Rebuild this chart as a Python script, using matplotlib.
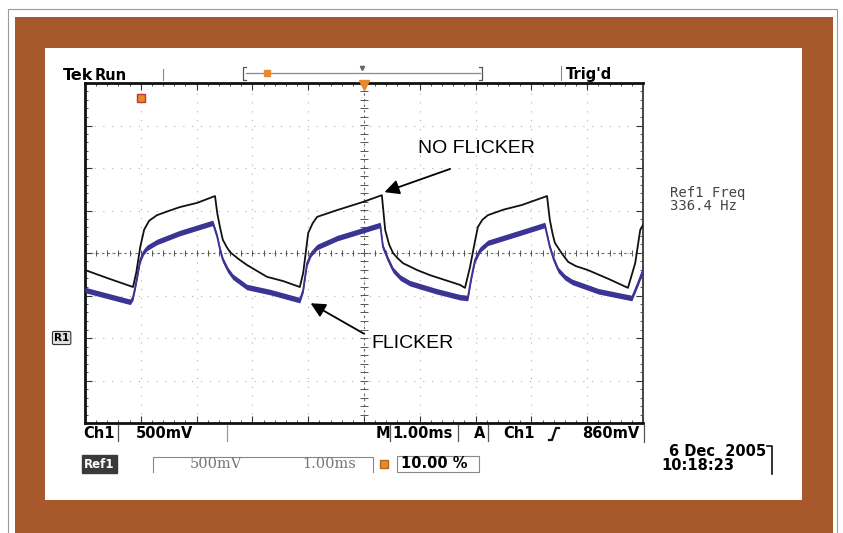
import numpy as np
import matplotlib.pyplot as plt
from matplotlib.patches import Rectangle
from matplotlib.lines import Line2D

# =============================
# Scope traces (time in ms, 1 ms/div; level in divisions, 500 mV/div)
# =============================
black_t = [0.00, 0.40, 0.86, 0.92, 0.99, 1.06, 1.15, 1.29, 1.50, 1.70, 2.01, 2.33,
           2.37, 2.42, 2.47, 2.54, 2.60, 2.75, 2.90, 3.26, 3.55, 3.85,
           3.91, 3.96, 4.00, 4.08, 4.16, 4.52, 4.98, 5.32,
           5.38, 5.45, 5.52, 5.60, 5.70, 5.95, 6.18, 6.72, 6.81,
           6.90, 6.97, 7.04, 7.12, 7.22, 7.50, 7.83, 8.28,
           8.33, 8.38, 8.42, 8.55, 8.66, 8.80, 9.01, 9.40, 9.73,
           9.86, 9.95, 10.0]
black_div = [-0.40, -0.59, -0.80, -0.45, 0.14, 0.55, 0.76, 0.89, 0.99, 1.08, 1.18, 1.34,
             0.94, 0.60, 0.31, 0.14, 0.02, -0.14, -0.28, -0.56, -0.66, -0.80,
             -0.47, 0.05, 0.47, 0.70, 0.85, 1.01, 1.20, 1.36,
             0.54, 0.20, 0.00, -0.12, -0.24, -0.40, -0.52, -0.75, -0.82,
             -0.33, 0.15, 0.61, 0.78, 0.89, 1.02, 1.13, 1.34,
             0.78, 0.45, 0.24, -0.02, -0.21, -0.31, -0.40, -0.62, -0.82,
             -0.24, 0.54, 0.66]

blue_t = [0.00, 0.81, 0.86, 0.90, 0.95, 0.99, 1.05, 1.11, 1.29, 1.70, 2.29,
          2.37, 2.42, 2.47, 2.56, 2.65, 2.90, 3.32, 3.85,
          3.91, 3.95, 3.98, 4.05, 4.16, 4.52, 5.29,
          5.34, 5.43, 5.52, 5.65, 5.82, 6.30, 6.72, 6.86,
          6.92, 6.99, 7.08, 7.22, 7.83, 8.24,
          8.33, 8.40, 8.48, 8.60, 8.73, 9.20, 9.80,
          9.91, 10.0]
blue_div = [-0.87, -1.15, -1.05, -0.80, -0.45, -0.16, 0.02, 0.12, 0.26, 0.47, 0.71,
            0.38, 0.08, -0.16, -0.40, -0.56, -0.80, -0.92, -1.11,
            -0.87, -0.50, -0.24, -0.02, 0.14, 0.35, 0.66,
            0.14, -0.15, -0.40, -0.58, -0.71, -0.90, -1.04, -1.06,
            -0.60, -0.16, 0.08, 0.24, 0.49, 0.66,
            0.14, -0.15, -0.40, -0.57, -0.68, -0.90, -1.06,
            -0.71, -0.40]

# =============================
# Readout texts
# =============================
ch1_scale = "500mV"
timebase = "1.00ms"
trig_level = "860mV"
ref_freq = ["Ref1 Freq", "336.4 Hz"]
ref_scale = ["500mV", "1.00ms"]
ref_pct = "10.00 %"
stamp = ["6 Dec  2005", "10:18:23"]

# =============================
# Colours / layout helpers
# =============================
W, H = 843, 533
brown = "#a8592c"
blue = "#3c3493"
orange = "#e8892e"

fig = plt.figure(figsize=(W / 100, H / 100), dpi=100)
fig.patch.set_facecolor("white")


def fx(x):
    return x / W


def fy(y):
    return 1 - y / H


def frect(x0, y0, x1, y1, **kw):
    kw.setdefault("zorder", 2)
    fig.add_artist(Rectangle((fx(x0), fy(y1)), (x1 - x0) / W, (y1 - y0) / H,
                             transform=fig.transFigure, **kw))


def fline(xs, ys, **kw):
    fig.add_artist(Line2D([fx(x) for x in xs], [fy(y) for y in ys],
                          transform=fig.transFigure, **kw))


def ftext(x, y, s, **kw):
    kw.setdefault("ha", "left")
    kw.setdefault("va", "center")
    fig.text(fx(x), fy(y), s, **kw)


# frame: outline, brown mat, white screen (behind the axes)
frect(8, 9, 837, 545, fc="none", ec="#9a9a9a", lw=0.8, zorder=-3)
frect(15, 17, 833, 545, fc=brown, ec="none", zorder=-2)
frect(45, 48, 802, 500, fc="white", ec="none", zorder=-1)

# =============================
# Graticule
# =============================
ax = fig.add_axes([fx(85), fy(423), 558 / W, 340 / H])
ax.set_xlim(0, 10)
ax.set_ylim(-4, 4)
ax.set_xticks(np.arange(0, 11, 1))
ax.set_yticks(np.arange(-4, 5, 1))
ax.set_xticks(np.arange(0, 10.01, 0.2), minor=True)
ax.set_yticks(np.arange(-4, 4.01, 0.2), minor=True)
ax.tick_params(which="both", direction="in", top=True, right=True,
               labelbottom=False, labelleft=False, color="#333333")
ax.tick_params(which="major", length=5, width=0.8)
ax.tick_params(which="minor", length=2.5, width=0.6)
ax.grid(True, which="major", color="#b0b0b0", lw=0.8, ls=(0, (1, 7)))
for side in ["left", "top", "bottom"]:
    ax.spines[side].set_linewidth(2.0)
    ax.spines[side].set_color("#111111")
ax.spines["right"].set_linewidth(1.4)
ax.spines["right"].set_color("#444444")

ax.axhline(0, color="#666666", lw=0.8, ls=(0, (2, 3)))
ax.axvline(5, color="#666666", lw=0.8, ls=(0, (2, 3)))
ax.vlines(np.arange(0, 10.01, 0.2), -0.08, 0.08, color="#555555", lw=0.7)
ax.hlines(np.arange(-4, 4.01, 0.2), 4.93, 5.07, color="#555555", lw=0.7)

# =============================
# Traces
# =============================
blue_arr = np.array(blue_div)
ax.fill_between(blue_t, blue_arr - 0.065, blue_arr + 0.065, color=blue, lw=0, zorder=3)
ax.plot(blue_t, blue_div, color=blue, lw=1.3, zorder=3)
ax.plot(black_t, black_div, color="#111111", lw=1.3, zorder=4)

# trigger position marker / trigger icon
ax.plot([5], [3.95], marker="v", color=orange, ms=7, clip_on=False, zorder=5)
ax.plot([1.0], [3.65], marker="s", color=orange, mec="#c0392b", ms=6, zorder=5)

# annotations
ax.annotate("", xy=(5.32, 1.41), xytext=(6.59, 2.0),
            arrowprops=dict(arrowstyle="-|>", lw=1.3, color="black", mutation_scale=22))
ax.text(5.97, 2.47, "NO FLICKER", fontsize=14, family="Liberation Sans",
        ha="left", va="center")
ax.annotate("", xy=(4.0, -1.15), xytext=(5.04, -1.93),
            arrowprops=dict(arrowstyle="-|>", lw=1.3, color="black", mutation_scale=22))
ax.text(5.14, -2.12, "FLICKER", fontsize=14, family="Liberation Sans",
        ha="left", va="center")

# =============================
# Top status line
# =============================
ftext(63, 75, "Tek", fontsize=11.5, weight="heavy")
ftext(95, 75, "Run", fontsize=10.5, weight="bold")
fline([163, 163], [69, 80], color="#888888", lw=0.8)
fline([246, 243, 243, 246], [67, 67, 80, 80], color="#555555", lw=0.9)
fline([246, 480], [73, 73], color="#888888", lw=0.9)
fline([479, 482, 482, 479], [67, 67, 80, 80], color="#555555", lw=0.9)
fline([267], [73], marker="s", color=orange, ms=5, lw=0)
fline([362], [68], marker="v", color="#666666", ms=3, lw=0)
fline([561, 561], [66, 80], color="#888888", lw=0.8)
ftext(566, 74, "Trig'd", fontsize=10.5, weight="bold")

# R1 ground marker
ftext(54, 338, "R1", fontsize=7.5, weight="bold",
      bbox=dict(boxstyle="round,pad=0.15", fc="#dddddd", ec="#333333", lw=0.8))

# reference frequency readout
ftext(670, 193, ref_freq[0], fontsize=10, family="DejaVu Sans Mono", color="#444444")
ftext(670, 206, ref_freq[1], fontsize=10, family="DejaVu Sans Mono", color="#444444")

# =============================
# Bottom readouts
# =============================
row1 = 434
ftext(83, row1, "Ch1", fontsize=10.5, weight="bold")
fline([118, 118], [425, 441], color="#555555", lw=0.9)
ftext(136, row1, ch1_scale, fontsize=10.5, weight="bold")
fline([227, 227], [425, 441], color="#999999", lw=0.9)
ftext(376, row1, "M", fontsize=10.5, weight="bold")
fline([390, 390], [425, 441], color="#555555", lw=0.9)
ftext(392, row1, timebase, fontsize=10.5, weight="bold")
fline([458, 458], [425, 441], color="#555555", lw=0.9)
ftext(474, row1, "A", fontsize=10.5, weight="bold")
fline([488, 488], [425, 441], color="#555555", lw=0.9)
ftext(503, row1, "Ch1", fontsize=10.5, weight="bold")
fline([549, 552, 556, 559], [440, 440, 428, 428], color="#111111", lw=1.6)
ftext(582, row1, trig_level, fontsize=10.5, weight="bold")
fline([644, 644], [425, 442], color="#555555", lw=0.9)

row2 = 464
ftext(84, row2, "Ref1", fontsize=8.5, weight="bold", color="white",
      bbox=dict(boxstyle="square,pad=0.2", fc="#3a3a3a", ec="#3a3a3a"))
fline([153, 153, 373, 373], [472, 457, 457, 472], color="#888888", lw=0.8)
ftext(190, row2, ref_scale[0], fontsize=10.5, family="DejaVu Serif", color="#777777")
ftext(302, row2, ref_scale[1], fontsize=10.5, family="DejaVu Serif", color="#777777")
fline([384], [row2], marker="s", color=orange, mec="#b5651d", ms=6, lw=0)
frect(397, 456, 479, 472, fc="none", ec="#888888", lw=0.8)
ftext(401, row2, ref_pct, fontsize=10.5, weight="bold")

ftext(669, 451, stamp[0], fontsize=10.5, weight="bold")
ftext(661, 465, stamp[1], fontsize=10.5, weight="bold")
fline([767, 772, 772], [446, 446, 474], color="#111111", lw=1.2)

fig.savefig("out.png", dpi=100)
